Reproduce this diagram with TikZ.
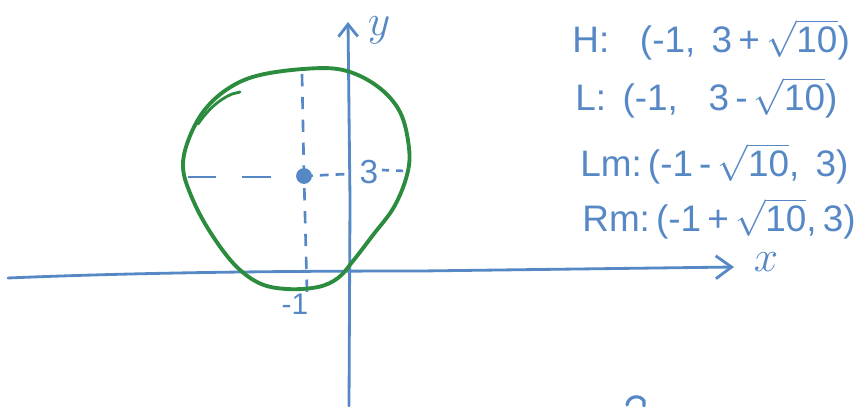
\documentclass[tikz,border=0pt]{standalone}
\usepackage{fontspec}
\setmainfont{Liberation Sans}
\usetikzlibrary{arrows.meta}
\definecolor{penblue}{RGB}{86,136,198}
\definecolor{pengreen}{RGB}{44,140,62}
\tikzset{
  axis/.style={draw=penblue, line width=1.6pt, line cap=round},
  guide/.style={draw=penblue, line width=1.5pt, dash pattern=on 7pt off 6pt},
  curve/.style={draw=pengreen, line width=2.2pt, line cap=round, line join=round},
  hand/.style={text=penblue, inner sep=0pt, font=\fontsize{21}{24}\selectfont},
  lbl/.style={text=penblue, inner sep=0pt, font=\fontsize{19}{22}\selectfont},
}
\newcommand{\rten}{$\sqrt{\mbox{10}}$}
\begin{document}
\begin{tikzpicture}[x={(0.02cm,0)}, y={(0,-0.02cm)}]
\useasboundingbox[fill=white] (0,0) rectangle (861,406);
% axes
\coordinate (xs) at (8,278);
\coordinate (xe) at (734,267);
\coordinate (ys) at (349,406);
\coordinate (ye) at (348,22);
\draw[axis, -{Straight Barb[length=9pt,width=13pt,line width=1.6pt]}] (xs) .. controls (150,272) and (300,271) .. (420,271) -- (xe);
\draw[axis, -{Straight Barb[length=7pt,width=11pt,line width=1.6pt]}] (ys) -- (350,200) -- (ye);
\node[text=penblue, inner sep=0pt, font=\fontsize{34}{36}\selectfont] (xl) at (766,262) {$x$};
\node[text=penblue, inner sep=0pt, font=\fontsize{34}{36}\selectfont] (yl) at (379,30) {$y$};
% centre and guides
\coordinate (c) at (304,176);
\coordinate (top) at (302,74);
\coordinate (bot) at (307,292);
\coordinate (lft) at (188,177);
\draw[guide] (top) -- (c) -- (bot);
\draw[guide, dash pattern=on 16pt off 15pt] (lft) -- (272,177);
\draw[guide, dash pattern=on 5pt off 4pt] (c) -- (348,174);
\fill[penblue] (c) circle (4.5pt);
\node[lbl] (three) at (369,172) {3};
\coordinate (tr) at (406,171);
\draw[guide, dash pattern=on 4pt off 4pt] (382,170) -- (tr);
\node[lbl, font=\fontsize{17}{20}\selectfont] (m1) at (295,304) {-1};
% circle
\draw[curve] plot[smooth cycle, tension=0.6] coordinates {
 (303,69) (343,70) (377,86) (400,112) (409,148) (407,175) (394,207)
 (373,235) (353,261) (338,278) (318,287) (287,289) (259,283) (233,263)
 (207,227) (190,193) (183,167) (188,141) (203,112) (226,90) (256,76)};
\draw[curve, line width=1.6pt] (198,124) .. controls (208,110) and (218,100) .. (232,94) -- (240,92);
% coordinates list
\node[hand, anchor=west] (H) at (572,40) {H:\;\; (-1,\, 3\,+\,\rten)};
\node[hand, anchor=west] (L) at (575,98) {L:\, (-1,\;\; 3\,-\,\rten)};
\node[hand, anchor=west] (Lm) at (580,164) {Lm:\,(-1\,-\,\rten,\, 3)};
\node[hand, anchor=west] (Rm) at (582,219) {Rm:\,(-1\,+\,\rten,\,3)};
% cut-off mark at the bottom
\draw[axis, line width=1.8pt] (627,405) .. controls (628,396) and (640,394) .. (644,401) -- (644,406);
\end{tikzpicture}
\end{document}
